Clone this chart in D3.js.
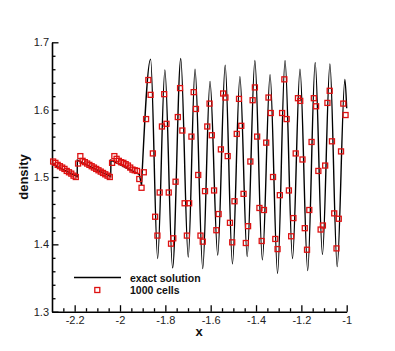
<!DOCTYPE html>
<html>
<head>
<meta charset="utf-8">
<title>density</title>
<script src="https://d3js.org/d3.v7.min.js"></script>
<style>
  body { margin: 0; background: #fff; }
  text { font-family: "Liberation Sans", Arial, sans-serif; }
</style>
</head>
<body>
<div id="chart"></div>
<script>
// exact solution, left (linear sawtooth) part
let sawX = [-2.3, -2.189, -2.188, -2.041, -2.04, -1.915, -1.905];
let sawY = [1.5195, 1.5005, 1.525, 1.5005, 1.525, 1.504, 1.488];

// exact solution, oscillating part (turning points)
let waveX = [-1.905, -1.865, -1.834, -1.802, -1.768, -1.732, -1.699, -1.669, -1.635,
             -1.603, -1.569, -1.536, -1.504, -1.471, -1.439, -1.405, -1.372, -1.338,
             -1.305, -1.272, -1.239, -1.206, -1.172, -1.139, -1.107, -1.074, -1.042,
             -1.008, -1.0];
let waveY = [1.488, 1.675, 1.379, 1.659, 1.365, 1.676, 1.381, 1.660, 1.364,
             1.642, 1.384, 1.666, 1.371, 1.649, 1.382, 1.673, 1.377, 1.652,
             1.357, 1.673, 1.379, 1.660, 1.361, 1.670, 1.385, 1.668, 1.367,
             1.645, 1.602];

// 1000 cells solution, one value per cell from x = -2.295 (dx = 0.01)
let cellStart = -2.295;
let cellDx = 0.01;
let cellY = [
  1.523, 1.521, 1.518, 1.516, 1.514, 1.512, 1.509, 1.507, 1.505, 1.502, 1.500,
  1.520, 1.531, 1.524, 1.522, 1.520, 1.518, 1.516, 1.514, 1.512, 1.510, 1.508, 1.506, 1.504, 1.502, 1.500,
  1.521, 1.531, 1.527, 1.524, 1.522, 1.521, 1.519, 1.517, 1.514, 1.511, 1.510, 1.509,
  1.497, 1.484, 1.507, 1.586, 1.644, 1.622, 1.535, 1.441, 1.413, 1.477,
  1.575, 1.623, 1.579, 1.477, 1.401, 1.409, 1.493, 1.589, 1.632, 1.569,
  1.461, 1.413, 1.461, 1.560, 1.626, 1.601, 1.503, 1.413, 1.404, 1.479,
  1.575, 1.609, 1.562, 1.480, 1.421, 1.445, 1.541, 1.624, 1.618, 1.531,
  1.432, 1.403, 1.464, 1.564, 1.616, 1.576, 1.475, 1.402, 1.427, 1.523,
  1.614, 1.633, 1.560, 1.454, 1.405, 1.451, 1.551, 1.618, 1.595, 1.500,
  1.408, 1.393, 1.473, 1.595, 1.645, 1.586, 1.480, 1.412, 1.439, 1.535,
  1.617, 1.613, 1.526, 1.424, 1.392, 1.451, 1.552, 1.617, 1.605, 1.509,
  1.422, 1.428, 1.517, 1.610, 1.628, 1.553, 1.446, 1.394, 1.438, 1.538,
  1.609, 1.592
];

let xTicks = [-2.2, -2, -1.8, -1.6, -1.4, -1.2, -1];
let xTickLabels = ["-2.2", "-2", "-1.8", "-1.6", "-1.4", "-1.2", "-1"];
let yTicks = [1.3, 1.4, 1.5, 1.6, 1.7];
let yTickLabels = ["1.3", "1.4", "1.5", "1.6", "1.7"];

let legendLabels = ["exact solution", "1000 cells"];

let w = 395;
let h = 351;

let xScale = d3.scaleLinear().domain([-2.3, -1]).range([52, 346.7]);
let yScale = d3.scaleLinear().domain([1.3, 1.7]).range([311.7, 42.3]);

let svg = d3.select("#chart")
            .append("svg")
            .attr("width", w)
            .attr("height", h);

// minor ticks
let xMinor = d3.range(-2.25, -1.0, 0.05).filter(v => Math.abs(v * 5 - Math.round(v * 5)) > 1e-6);
let yMinor = d3.range(1.32, 1.7, 0.02).filter(v => Math.abs(v * 10 - Math.round(v * 10)) > 1e-6);

svg.append("g")
   .attr("transform", "translate(0," + yScale(1.3) + ")")
   .call(d3.axisBottom(xScale).tickValues(xMinor).tickFormat("").tickSize(-3.5).tickSizeOuter(0))
   .call(g => g.select(".domain").remove());

svg.append("g")
   .attr("transform", "translate(" + xScale(-2.3) + ",0)")
   .call(d3.axisLeft(yScale).tickValues(yMinor).tickFormat("").tickSize(-3.5).tickSizeOuter(0))
   .call(g => g.select(".domain").remove());

// major axes
let xAxis = svg.append("g")
   .attr("transform", "translate(0," + yScale(1.3) + ")")
   .call(d3.axisBottom(xScale).tickValues(xTicks)
          .tickFormat((d, i) => xTickLabels[i]).tickSize(-6.5).tickSizeOuter(0).tickPadding(5));

let yAxis = svg.append("g")
   .attr("transform", "translate(" + xScale(-2.3) + ",0)")
   .call(d3.axisLeft(yScale).tickValues(yTicks)
          .tickFormat((d, i) => yTickLabels[i]).tickSize(-6.5).tickSizeOuter(0).tickPadding(3));

svg.selectAll(".domain").attr("stroke", "#000").attr("stroke-width", 1.6);
svg.selectAll(".tick line").attr("stroke", "#000").attr("stroke-width", 1.3);
svg.selectAll(".tick text")
   .attr("font-family", "Liberation Sans, Arial, sans-serif")
   .attr("font-size", "11px")
   .attr("fill", "#222");

// axis titles
svg.append("text")
   .attr("x", 199)
   .attr("y", 336)
   .attr("text-anchor", "middle")
   .attr("font-size", "13px")
   .attr("font-weight", "bold")
   .attr("fill", "#111")
   .text("x");

svg.append("text")
   .attr("transform", "translate(28," + yScale(1.5) + ") rotate(-90)")
   .attr("text-anchor", "middle")
   .attr("font-size", "13px")
   .attr("font-weight", "bold")
   .attr("fill", "#111")
   .text("density");

// exact solution line
let lineLinear = d3.line()
   .x((d, i) => xScale(d[0]))
   .y(d => yScale(d[1]));

let lineSmooth = d3.line()
   .x(d => xScale(d[0]))
   .y(d => yScale(d[1]))
   .curve(d3.curveMonotoneX);

svg.append("path")
   .datum(sawX.map((x, i) => [x, sawY[i]]))
   .attr("d", lineLinear)
   .attr("fill", "none")
   .attr("stroke", "#000")
   .attr("stroke-width", 1.4);

svg.append("path")
   .datum(waveX.map((x, i) => [x, waveY[i]]))
   .attr("d", lineSmooth)
   .attr("fill", "none")
   .attr("stroke", "#000")
   .attr("stroke-width", 1.4);

// 1000 cells squares
let sq = 5;
svg.selectAll("rect.cell")
   .data(cellY)
   .enter()
   .append("rect")
   .attr("class", "cell")
   .attr("x", (d, i) => xScale(cellStart + i * cellDx) - sq / 2)
   .attr("y", d => yScale(d) - sq / 2)
   .attr("width", sq)
   .attr("height", sq)
   .attr("fill", "none")
   .attr("stroke", "#dd1111")
   .attr("stroke-width", 1.3);

// legend
svg.append("line")
   .attr("x1", 74).attr("x2", 121)
   .attr("y1", 277.5).attr("y2", 277.5)
   .attr("stroke", "#000")
   .attr("stroke-width", 1.4);

svg.append("rect")
   .attr("x", 97.3 - sq / 2)
   .attr("y", 290 - sq / 2)
   .attr("width", sq)
   .attr("height", sq)
   .attr("fill", "none")
   .attr("stroke", "#dd1111")
   .attr("stroke-width", 1.3);

svg.selectAll("text.legend")
   .data(legendLabels)
   .enter()
   .append("text")
   .attr("class", "legend")
   .attr("x", 130)
   .attr("y", (d, i) => 281.5 + i * 12.8)
   .attr("font-size", "10.5px")
   .attr("font-weight", "bold")
   .attr("fill", "#111")
   .text(d => d);
</script>
</body>
</html>
